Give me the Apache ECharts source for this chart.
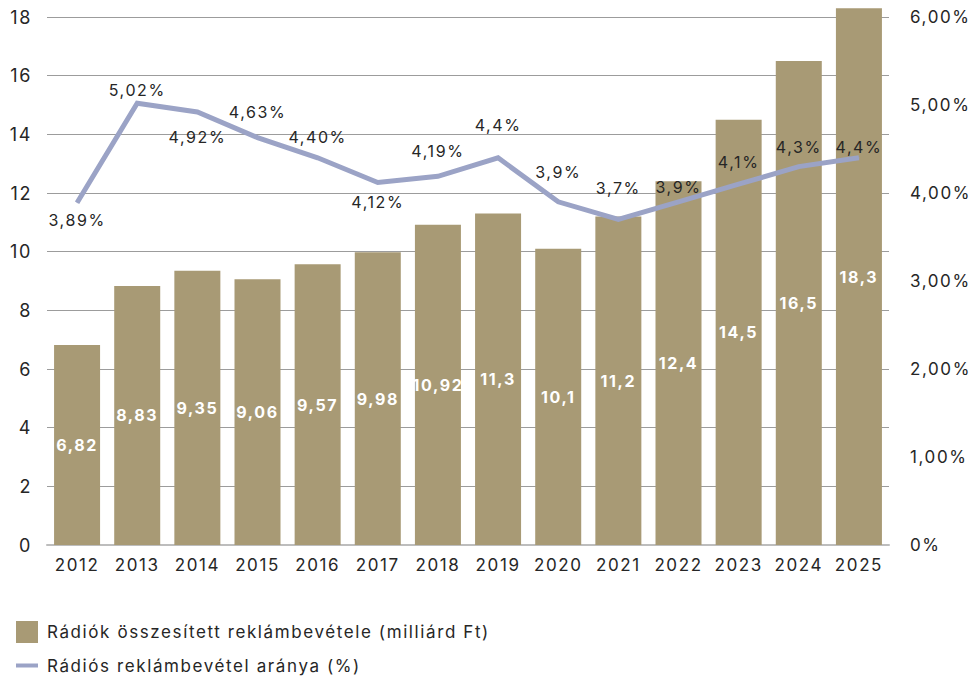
<!DOCTYPE html>
<html>
<head>
<meta charset="utf-8">
<script src="https://cdn.jsdelivr.net/npm/echarts@6/dist/echarts.min.js"></script>
<style>
  html, body { margin: 0; padding: 0; background: #ffffff; }
  #chart { width: 975px; height: 680px; letter-spacing: 1.6px; }
</style>
</head>
<body>
<div id="chart"></div>
<script>
// Years on the category axis
const years = ['2012', '2013', '2014', '2015', '2016', '2017', '2018', '2019', '2020', '2021', '2022', '2023', '2024', '2025'];

// Total radio advertising revenue (billion HUF)
const revenue = [6.82, 8.83, 9.35, 9.06, 9.57, 9.98, 10.92, 11.3, 10.1, 11.2, 12.4, 14.5, 16.5, 18.3];

// Radio share of advertising revenue (%)
const share = [3.89, 5.02, 4.92, 4.63, 4.40, 4.12, 4.19, 4.4, 3.9, 3.7, 3.9, 4.1, 4.3, 4.4];

// Number of decimals shown in each share label
const shareDecimals = [2, 2, 2, 2, 2, 2, 2, 1, 1, 1, 1, 1, 1, 1];

// Left axis ticks (billion HUF) and right axis ticks (%)
const leftTicks = [0, 2, 4, 6, 8, 10, 12, 14, 16, 18];
const rightTicks = [0, 1, 2, 3, 4, 5, 6];

const seriesNames = ['Rádiók összesített reklámbevétele (milliárd Ft)', 'Rádiós reklámbevétel aránya (%)'];

// Vertical nudges for the share labels, so they sit clear of the line
const shareLabelShift = [17, -13, 25, -26, -21, 20, -25, -33, -30, -31, -15, -22, -20, -11];

const FONT = 'Inter, "Liberation Sans", Arial, sans-serif';
const BAR_COLOR = '#a89a75';
const LINE_COLOR = '#9ba3c6';
const TEXT_COLOR = '#262626';

const fmtComma = (v, d) => v.toFixed(d).replace('.', ',');
const decimalsOf = v => (String(v).split('.')[1] || '').length;

const chart = echarts.init(document.getElementById('chart'), null, { renderer: 'svg' });

chart.setOption({
  backgroundColor: '#ffffff',
  animation: false,
  grid: { left: 47, right: 86, top: 17, bottom: 135, containLabel: false },
  legend: {
    orient: 'vertical',
    left: 11,
    top: 616,
    itemWidth: 22,
    itemHeight: 22,
    itemGap: 14,
    symbolKeepAspect: true,
    textStyle: { fontFamily: FONT, fontSize: 17, color: TEXT_COLOR, padding: [0, 0, 0, 4] },
    data: [
      { name: seriesNames[0], icon: 'rect' },
      { name: seriesNames[1], icon: 'path://M0,0 L22,0 L22,4 L0,4 Z' }
    ]
  },
  xAxis: {
    type: 'category',
    data: years,
    axisTick: { show: false },
    axisLine: { show: true, lineStyle: { color: '#bdbdbd', width: 2 } },
    axisLabel: { fontFamily: FONT, fontSize: 17, color: TEXT_COLOR, margin: 11 }
  },
  yAxis: [
    {
      type: 'value',
      position: 'left',
      min: leftTicks[0],
      max: leftTicks[leftTicks.length - 1],
      interval: leftTicks[1] - leftTicks[0],
      axisLine: { show: false },
      axisTick: { show: false },
      splitLine: { show: true, showMinLine: false, lineStyle: { color: '#9c9c9c', width: 1 } },
      axisLabel: { fontFamily: FONT, fontSize: 18, color: TEXT_COLOR, margin: 15 }
    },
    {
      type: 'value',
      position: 'right',
      min: rightTicks[0],
      max: rightTicks[rightTicks.length - 1],
      interval: rightTicks[1] - rightTicks[0],
      axisLine: { show: false },
      axisTick: { show: false },
      splitLine: { show: false },
      axisLabel: {
        fontFamily: FONT, fontSize: 17, color: TEXT_COLOR, margin: 21,
        formatter: v => (v === 0 ? '0%' : fmtComma(v, 2) + '%')
      }
    }
  ],
  series: [
    {
      name: seriesNames[0],
      type: 'bar',
      yAxisIndex: 0,
      data: revenue,
      clip: false,
      barCategoryGap: '23.5%',
      itemStyle: { color: BAR_COLOR },
      label: {
        show: true,
        position: 'inside',
        fontFamily: FONT,
        fontSize: 16,
        fontWeight: 'bold',
        color: '#ffffff',
        formatter: p => fmtComma(p.value, decimalsOf(p.value))
      },
      z: 2
    },
    {
      name: seriesNames[1],
      type: 'line',
      yAxisIndex: 1,
      data: share.map((v, i) => ({
        value: v,
        label: { offset: [0, shareLabelShift[i]] }
      })),
      symbol: 'circle',
      symbolSize: 1,
      showSymbol: true,
      lineStyle: { color: LINE_COLOR, width: 5, join: 'miter' },
      itemStyle: { color: LINE_COLOR },
      label: {
        show: true,
        position: 'inside',
        fontFamily: FONT,
        fontSize: 16,
        color: TEXT_COLOR,
        formatter: p => fmtComma(share[p.dataIndex], shareDecimals[p.dataIndex]) + '%'
      },
      z: 3
    }
  ]
});
</script>
</body>
</html>
